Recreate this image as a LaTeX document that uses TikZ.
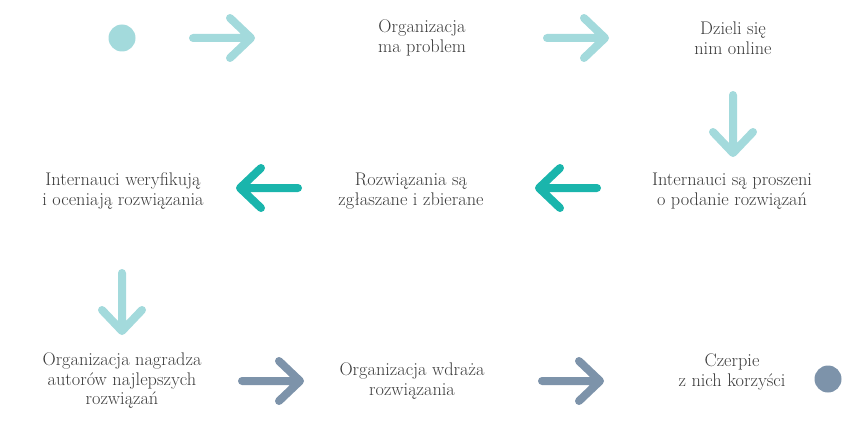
\documentclass[tikz,border=0pt]{standalone}
\usepackage{fontspec}
\setmainfont{Latin Modern Roman}
\definecolor{lteal}{HTML}{A3DADC}
\definecolor{dteal}{HTML}{1AB5AC}
\definecolor{slate}{HTML}{7D93AA}
\definecolor{txt}{HTML}{3A3A3A}
\tikzset{
  label/.style={align=center,text=txt,font=\fontsize{18.3}{19.5}\selectfont,inner sep=0pt},
  bigarrow/.pic={\draw[line width=8pt,line cap=round,line join=round,pic actions] (-29,0) -- (29,0) (8,-20) -- (29,0) -- (8,20);},
  dot/.style={circle,minimum size=27pt,inner sep=0pt}
}
\begin{document}
\begin{tikzpicture}[x=1pt,y=-1pt]
\useasboundingbox (0,0) rectangle (866,420);
% row 1
\node[dot,fill=lteal] (start) at (122,38) {};
\node[label] (n1) at (422,38) {Organizacja\\ma problem};
\node[label] (n2) at (733,38) {Dzieli się\\nim online};
% row 2
\node[label] (n3) at (732,191) {Internauci są proszeni\\o podanie rozwiązań};
\node[label] (n4) at (411,191) {Rozwiązania są\\zgłaszane i zbierane};
\node[label] (n5) at (123,191) {Internauci weryfikują\\i oceniają rozwiązania};
% row 3
\node[label] (n6) at (122,381) {Organizacja nagradza\\autorów najlepszych\\rozwiązań};
\node[label] (n7) at (412,381) {Organizacja wdraża\\rozwiązania};
\node[label] (n8) at (732,372) {Czerpie\\z nich korzyści};
\node[dot,fill=slate] (end) at (828,379) {};
% arrow positions
\coordinate (a1) at (222,38);
\coordinate (a2) at (576,38);
\coordinate (a3) at (733,124);
\coordinate (a4) at (568,188);
\coordinate (a5) at (269,188);
\coordinate (a6) at (122,302);
\coordinate (a7) at (271,381);
\coordinate (a8) at (571,381);
\path (a1) pic[lteal] {bigarrow};
\path (a2) pic[lteal] {bigarrow};
\path (a3) pic[lteal,rotate=-90] {bigarrow};
\path (a4) pic[dteal,rotate=180] {bigarrow};
\path (a5) pic[dteal,rotate=180] {bigarrow};
\path (a6) pic[lteal,rotate=-90] {bigarrow};
\path (a7) pic[slate] {bigarrow};
\path (a8) pic[slate] {bigarrow};
\end{tikzpicture}
\end{document}
